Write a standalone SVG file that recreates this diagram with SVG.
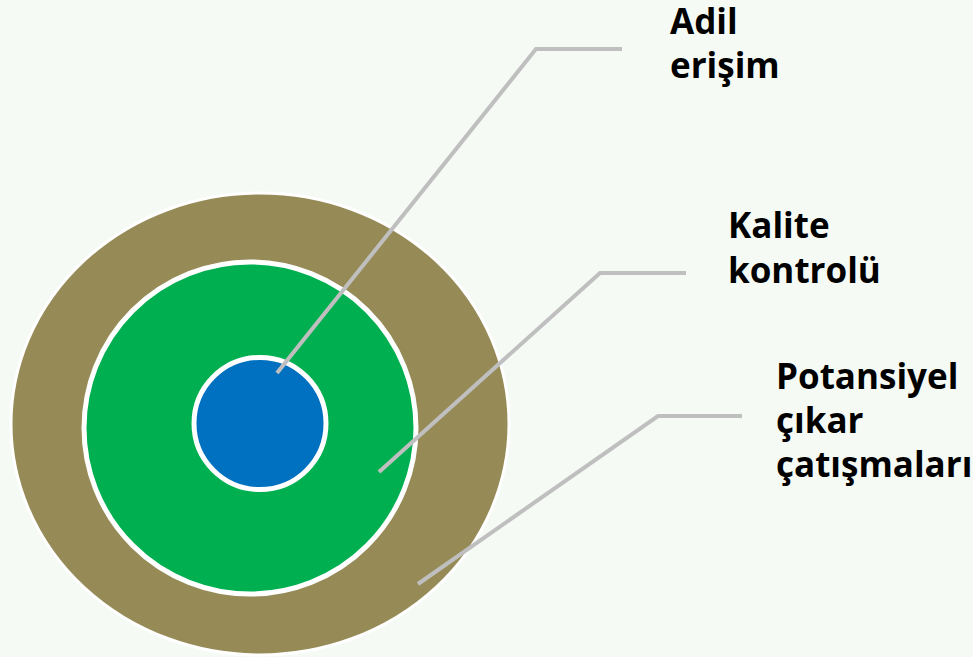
<svg xmlns="http://www.w3.org/2000/svg" width="973" height="657" viewBox="0 0 973 657">
<style>
.lbl{font-family:"Open Sans","Liberation Sans",sans-serif;font-weight:bold;font-size:35px;fill:#000}
.con{fill:none;stroke:#bfbfbf;stroke-width:4}
</style>
<rect width="973" height="657" fill="#f5faf5"/>
<g id="outer"><ellipse cx="260" cy="424" rx="249" ry="231" fill="#968b56" stroke="#fff" stroke-width="3"/></g>
<g id="middle"><circle cx="250" cy="428" r="166" fill="#00b050" stroke="#fff" stroke-width="5"/></g>
<g id="inner"><circle cx="260" cy="423.5" r="66" fill="#0070c0" stroke="#fff" stroke-width="5"/></g>
<g id="connectors">
<polyline class="con" points="277,373 536,49 622,49"/>
<polyline class="con" points="379,472 600,273 686,273"/>
<polyline class="con" points="418,584 658,416 742,416"/>
</g>
<g id="label-adil"><text class="lbl" x="670" y="34">Adil</text><text class="lbl" x="670" y="78">erişim</text></g>
<g id="label-kalite"><text class="lbl" x="728" y="238">Kalite</text><text class="lbl" x="728" y="283">kontrolü</text></g>
<g id="label-potansiyel"><text class="lbl" x="776" y="389">Potansiyel</text><text class="lbl" x="776" y="433">çıkar</text><text class="lbl" x="776" y="477">çatışmaları</text></g>
</svg>
